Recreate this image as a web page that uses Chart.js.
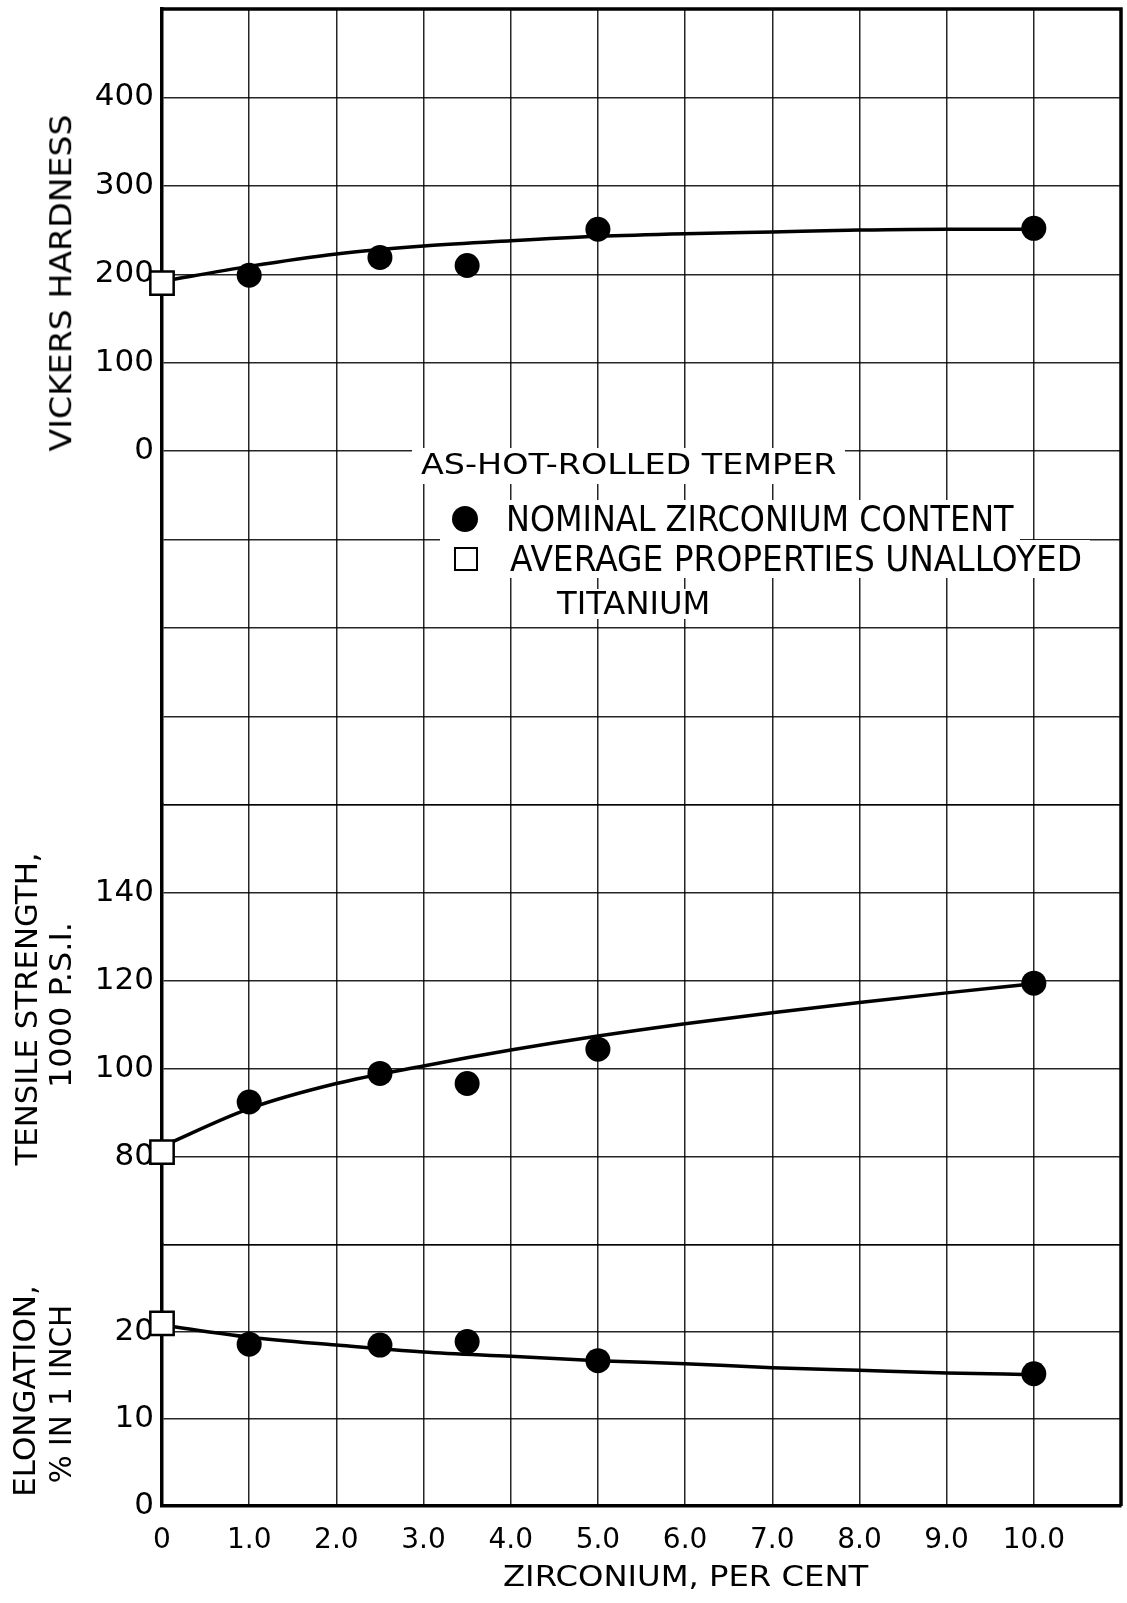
<!DOCTYPE html>
<html>
<head>
<meta charset="utf-8">
<title>Zirconium additions to titanium, as-hot-rolled</title>
<script src="https://cdn.jsdelivr.net/npm/chart.js@4.4.1/dist/chart.umd.min.js"></script>
<style>
  html, body { margin: 0; padding: 0; background: #fff; }
  #wrap { position: relative; width: 1127px; height: 1603px; overflow: hidden; }
  #chart { position: absolute; left: 0; top: 0; }
  .txt { position: absolute; white-space: nowrap; font-family: 'DejaVu Sans', sans-serif; color: #000; line-height: 1.15; }
  .mask { position: absolute; background: #fff; }
  .mark { position: absolute; box-sizing: border-box; }
</style>
</head>
<body>
<div id="wrap">
  <canvas id="chart" width="1127" height="1603"></canvas>

  <!-- legend, white patches hide the grid behind the lettering -->
  <div class="mask" style="left:412px;top:448px;width:433px;height:36px"></div>
  <div class="mask" style="left:440px;top:500px;width:580px;height:42px"></div>
  <div class="mask" style="left:440px;top:540px;width:650px;height:38px"></div>
  <div class="mask" style="left:548px;top:589px;width:170px;height:30px"></div>
  <div class="mark" style="left:452px;top:506px;width:26px;height:26px;border-radius:50%;background:#000"></div>
  <div class="mark" style="left:454px;top:547px;width:24px;height:24px;border:2.5px solid #000;background:#fff"></div>
  <div class="txt" data-x="421" data-y="465" data-w="416" style="font-size:28px">AS-HOT-ROLLED TEMPER</div>
  <div class="txt" data-x="506" data-y="519" data-w="508" style="font-size:35px">NOMINAL ZIRCONIUM CONTENT</div>
  <div class="txt" data-x="510" data-y="559" data-w="572" style="font-size:35px">AVERAGE PROPERTIES UNALLOYED</div>
  <div class="txt" data-x="557" data-y="603" data-w="153" style="font-size:32px">TITANIUM</div>

  <!-- axis titles -->
  <div class="txt rot" data-x="60.5" data-y="283" data-w="337" style="font-size:31px">VICKERS HARDNESS</div>
  <div class="txt rot" data-x="26.5" data-y="1009" data-w="313" style="font-size:31px">TENSILE STRENGTH,</div>
  <div class="txt rot" data-x="61" data-y="1005" data-w="166" style="font-size:31px">1000 P.S.I.</div>
  <div class="txt rot" data-x="25" data-y="1391" data-w="212" style="font-size:31px">ELONGATION,</div>
  <div class="txt rot" data-x="61" data-y="1394" data-w="178" style="font-size:31px">% IN 1 INCH</div>
  <div class="txt" data-x="503" data-y="1577" data-w="365" style="font-size:29px">ZIRCONIUM, PER CENT</div>
</div>

<script>
// nominal zirconium content, measured points
const zrAlloyed = [1.0, 2.5, 3.5, 5.0, 10.0];
const hardnessAlloyed = [199, 219, 210, 251, 252];
const tensileAlloyed = [92.5, 99.0, 96.7, 104.5, 119.5];
const elongationAlloyed = [18.6, 18.5, 18.9, 16.7, 15.2];

// average properties, unalloyed titanium
const zrUnalloyed = [0];
const hardnessUnalloyed = [190];
const tensileUnalloyed = [81.1];
const elongationUnalloyed = [21.0];

// faired curves
const zrCurve = [0, 1, 2, 3, 4, 5, 6, 7, 8, 9, 10];
const hardnessCurve = [192, 209, 223, 232, 238, 243, 246, 248, 250, 251, 251];
const tensileCurve = [82.4, 91.0, 96.7, 100.7, 104.3, 107.5, 110.3, 112.8, 115.1, 117.3, 119.4];
const elongationCurve = [20.8, 19.4, 18.5, 17.7, 17.2, 16.7, 16.35, 15.9, 15.6, 15.3, 15.1];

// tick labels
const xTickLabels = ['0', '1.0', '2.0', '3.0', '4.0', '5.0', '6.0', '7.0', '8.0', '9.0', '10.0', ''];
const hardnessTicks = [0, 100, 200, 300, 400];
const tensileTicks = [80, 100, 120, 140];
const elongationTicks = [0, 10, 20];

const black = '#000';
const fontFamily = "'DejaVu Sans', sans-serif";
const gridStyle = { color: 'rgba(0,0,0,0.85)', lineWidth: 1.5, drawTicks: false };
const borderStyle = { color: black, width: 3.5 };

const pts = (xs, ys) => xs.map((x, i) => ({ x, y: ys[i] }));

function yAxis(min, max, step, shown, weight) {
    return {
        type: 'linear',
        position: 'left',
        stack: 'left',
        stackWeight: weight,
        min: min,
        max: max,
        grid: gridStyle,
        border: borderStyle,
        ticks: {
            stepSize: step,
            autoSkip: false,
            padding: 8,
            color: black,
            font: { family: fontFamily, size: 31 },
            callback: v => shown.includes(v) ? String(v) : ''
        },
        afterFit: s => {
            s.width = 162;
            s.paddingTop = 0;
            s.paddingBottom = 0;
        }
    };
}

function curve(ys, axis) {
    return {
        data: pts(zrCurve, ys),
        yAxisID: axis,
        showLine: true,
        borderColor: black,
        borderWidth: 3.5,
        pointRadius: 0,
        cubicInterpolationMode: 'monotone',
        order: 2,
        clip: false
    };
}

function dots(xs, ys, axis) {
    return {
        data: pts(xs, ys),
        yAxisID: axis,
        pointStyle: 'circle',
        pointRadius: 12.5,
        pointBackgroundColor: black,
        pointBorderWidth: 0,
        order: 0,
        clip: false
    };
}

function squares(xs, ys, axis) {
    return {
        data: pts(xs, ys),
        yAxisID: axis,
        pointStyle: 'rect',
        pointRadius: 16.5,
        pointBackgroundColor: '#fff',
        pointBorderColor: black,
        pointBorderWidth: 2.5,
        order: 0,
        clip: false
    };
}

// top and right edges of the frame
const framePlugin = {
    id: 'frame',
    beforeDatasetsDraw(chart) {
        const { ctx, chartArea: a } = chart;
        ctx.save();
        ctx.strokeStyle = black;
        ctx.lineWidth = 3.5;
        ctx.beginPath();
        ctx.moveTo(a.left, a.top);
        ctx.lineTo(a.right, a.top);
        ctx.lineTo(a.right, a.bottom);
        ctx.stroke();
        ctx.restore();
    }
};

new Chart(document.getElementById('chart'), {
    type: 'scatter',
    data: {
        datasets: [
            dots(zrAlloyed, hardnessAlloyed, 'yHard'),
            squares(zrUnalloyed, hardnessUnalloyed, 'yHard'),
            dots(zrAlloyed, tensileAlloyed, 'yTens'),
            squares(zrUnalloyed, tensileUnalloyed, 'yTens'),
            dots(zrAlloyed, elongationAlloyed, 'yElong'),
            squares(zrUnalloyed, elongationUnalloyed, 'yElong'),
            curve(hardnessCurve, 'yHard'),
            curve(tensileCurve, 'yTens'),
            curve(elongationCurve, 'yElong')
        ]
    },
    options: {
        responsive: false,
        animation: false,
        layout: { autoPadding: false, padding: { top: 9, right: 6, left: 0, bottom: 0 } },
        plugins: { legend: { display: false }, tooltip: { enabled: false } },
        scales: {
            x: {
                type: 'linear',
                position: 'bottom',
                min: 0,
                max: 11,
                grid: gridStyle,
                border: borderStyle,
                ticks: {
                    stepSize: 1,
                    autoSkip: false,
                    maxRotation: 0,
                    padding: 18,
                    color: black,
                    font: { family: fontFamily, size: 28 },
                    callback: v => xTickLabels[v] ?? ''
                },
                afterFit: s => {
                    s.height = 97;
                    s.paddingLeft = 0;
                    s.paddingRight = 0;
                }
            },
            yElong: yAxis(0, 30, 10, elongationTicks, 261),
            yTens: yAxis(60, 160, 20, tensileTicks, 440),
            yHard: yAxis(-400, 500, 100, hardnessTicks, 796)
        }
    },
    plugins: [framePlugin]
});

// squeeze the lettering to the widths of the original
document.querySelectorAll('.txt').forEach(el => {
    const k = +el.dataset.w / el.offsetWidth;
    el.style.left = el.dataset.x + 'px';
    el.style.top = el.dataset.y + 'px';
    if (el.classList.contains('rot')) {
        el.style.transform = `translate(-50%, -50%) rotate(-90deg) scaleX(${k})`;
    } else {
        el.style.transformOrigin = 'left center';
        el.style.transform = `translateY(-50%) scaleX(${k})`;
    }
});
</script>
</body>
</html>
